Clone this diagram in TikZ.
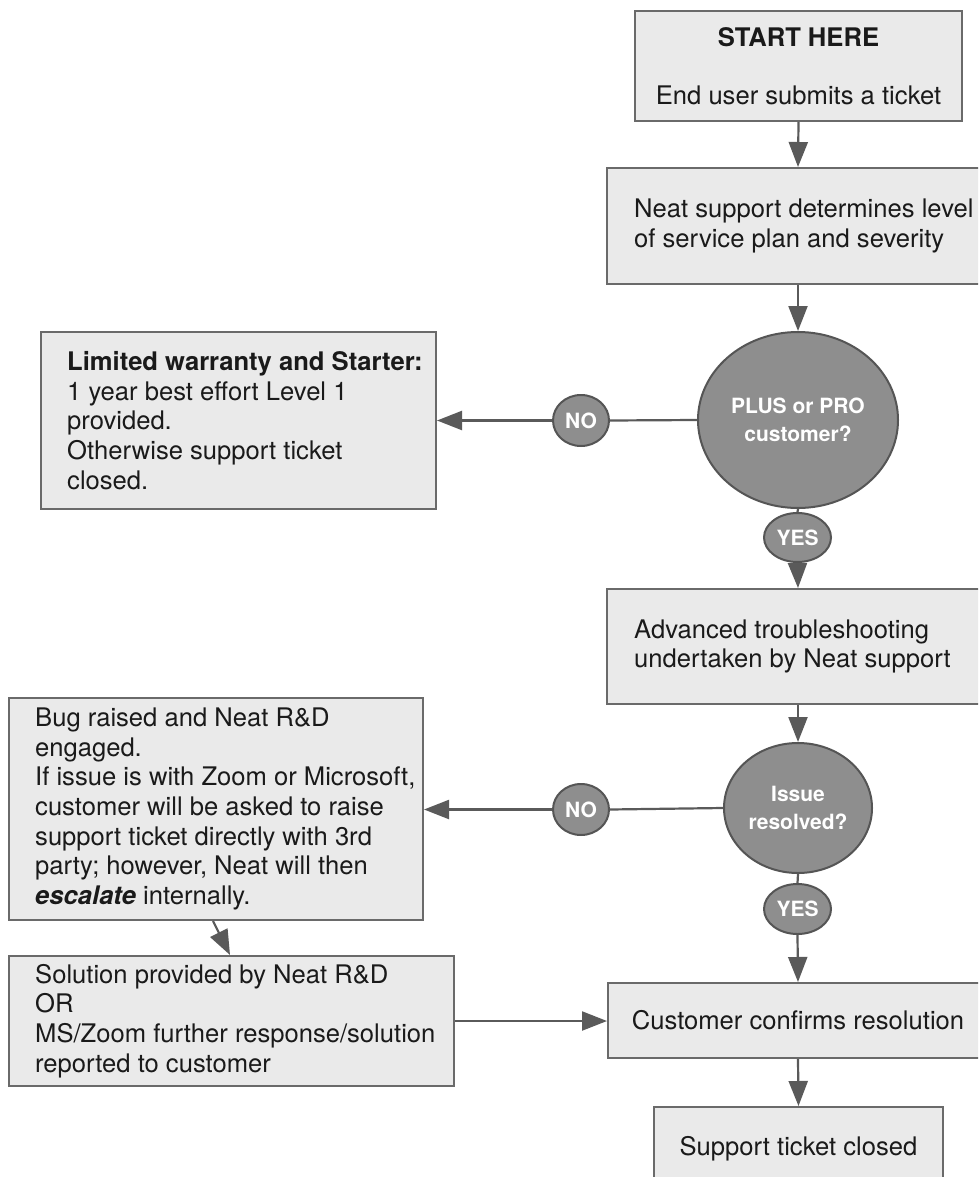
\documentclass[tikz,border=0pt]{standalone}
\usepackage{fontspec}
\setmainfont{TeX Gyre Heros}
\usetikzlibrary{arrows.meta,shapes.geometric}
\definecolor{boxfill}{HTML}{EAEAEA}
\definecolor{boxline}{HTML}{6A6A6A}
\definecolor{decfill}{HTML}{8E8E8E}
\definecolor{decline}{HTML}{555555}
\definecolor{arrline}{HTML}{5A5A5A}
\definecolor{txtcol}{HTML}{1A1A1A}
\tikzset{
  box/.style={rectangle, draw=boxline, fill=boxfill, line width=2pt, inner sep=0pt, align=center, text=txtcol,
    font=\fontsize{25.6}{29.7}\selectfont},
  txt/.style={anchor=west, align=left, inner sep=0pt, text=txtcol, font=\fontsize{25.6}{29.7}\selectfont},
  dec/.style={ellipse, draw=decline, fill=decfill, line width=2pt, inner sep=0pt, align=center, text=white,
    font=\bfseries\fontsize{21}{27.5}\selectfont},
  arr/.style={draw=arrline, line width=2.2pt, -{Triangle[length=25pt,width=19pt]}},
  ln/.style={draw=arrline, line width=2.2pt}
}
\begin{document}
\begin{tikzpicture}[x=1pt,y=-1pt]
\useasboundingbox (0,0) rectangle (978,1177);
\fill[white] (0,0) rectangle (978,1177);
\clip (0,0) rectangle (978,1177);

% right column
\node[box, minimum width=327, minimum height=110] (start) at (798.5,66)
  {\textbf{START HERE}\\[28pt]End user submits a ticket};
\node[box, minimum width=382, minimum height=116] (plan) at (798,226) {};
\node[txt] (plant) at ([xshift=28pt]plan.west) {Neat support determines level\\of service plan and severity};
\node[dec, minimum width=200, minimum height=176] (d1) at (798,420) {PLUS or PRO\\customer?};
\node[dec, minimum width=56, minimum height=51] (no1) at (581,420.5) {NO};
\node[dec, minimum width=67, minimum height=49] (yes1) at (797.5,537.5) {YES};
\node[box, minimum width=382, minimum height=115] (adv) at (798,646.5) {};
\node[txt] (advt) at ([xshift=28pt]adv.west) {Advanced troubleshooting\\undertaken by Neat support};
\node[dec, minimum width=148, minimum height=130] (d2) at (798,808) {Issue\\resolved?};
\node[dec, minimum width=56, minimum height=51] (no2) at (581,809.5) {NO};
\node[dec, minimum width=67, minimum height=50] (yes2) at (797.5,909) {YES};
\node[box, minimum width=380, minimum height=75] (cust) at (798,1020.5) {Customer confirms resolution};
\node[box, minimum width=289, minimum height=83] (sup) at (798.5,1148.5) {Support ticket closed};

% left column
\node[box, minimum width=395, minimum height=177] (lim) at (238.5,420.5) {};
\node[txt] (limt) at ([xshift=27pt]lim.west)
  {\textbf{Limited warranty and Starter:}\\1 year best effort Level 1\\provided.\\Otherwise support ticket\\closed.};
\node[box, minimum width=414, minimum height=222] (bug) at (216,809) {};
\node[txt] (bugt) at ([xshift=27pt]bug.west)
  {Bug raised and Neat R\&D\\engaged.\\If issue is with Zoom or Microsoft,\\customer will be asked to raise\\support ticket directly with 3rd\\party; however, Neat will then\\\textbf{\textit{escalate}} internally.};
\node[box, minimum width=445, minimum height=130] (sol) at (231.5,1021) {};
\node[txt] (solt) at ([xshift=27pt]sol.west)
  {Solution provided by Neat R\&D\\OR\\MS/Zoom further response/solution\\reported to customer};

% connectors
\draw[arr] (start.south) -- (plan.north);
\draw[arr] (plan.south) -- (d1.north);
\draw[ln] (d1.west) -- (no1.east);
\draw[arr] (no1.west) -- (lim.east |- no1.west);
\draw[ln] (d1.south) -- (yes1.north);
\draw[arr] (yes1.south) -- (adv.north);
\draw[arr] (adv.south) -- (d2.north);
\draw[ln] (d2.west) -- (no2.east);
\draw[arr] (no2.west) -- (bug.east |- no2.west);
\draw[ln] (d2.south) -- (yes2.north);
\draw[arr] (yes2.south) -- (cust.north);
\draw[arr] ([xshift=-3pt]bug.south) -- ([xshift=-1.5pt]sol.north);
\draw[arr] (sol.east) -- (cust.west |- sol.east);
\draw[arr] (cust.south) -- (sup.north);
\end{tikzpicture}
\end{document}
